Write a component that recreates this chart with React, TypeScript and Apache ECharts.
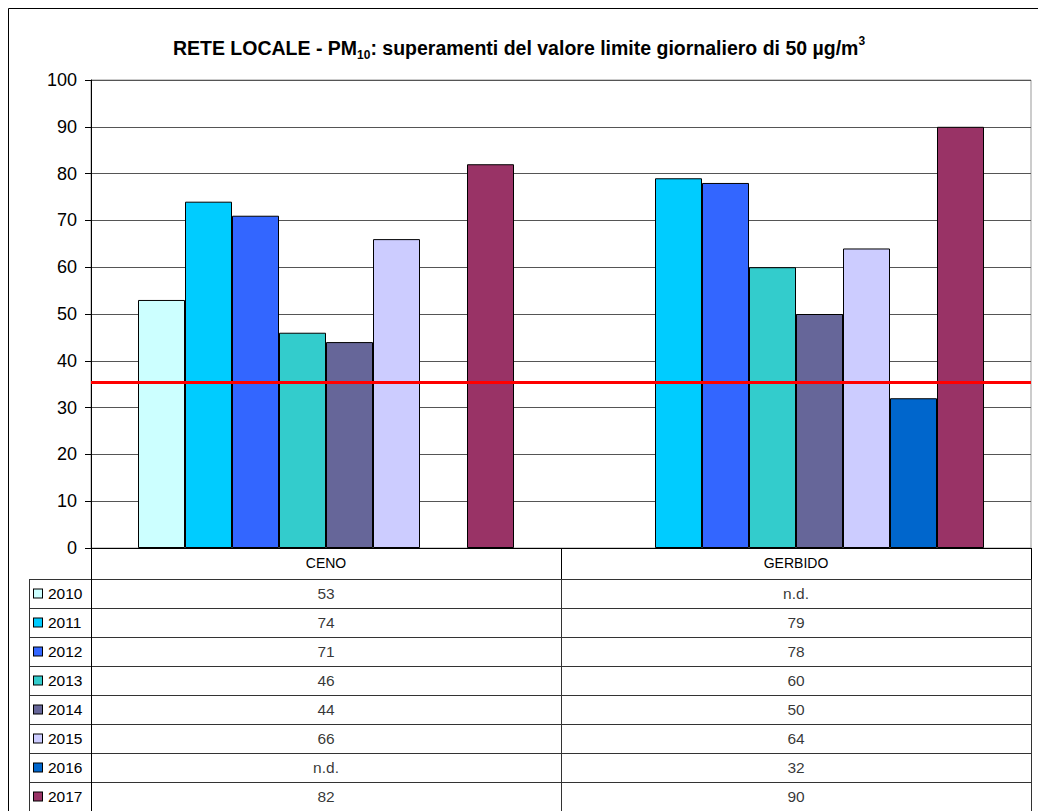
import React, { useEffect, useRef } from "react";
import * as echarts from "echarts";

const categories = ["CENO", "GERBIDO"];
const years = ["2010", "2011", "2012", "2013", "2014", "2015", "2016", "2017"];
const yearColors = ["#CCFFFF", "#00CCFF", "#3366FF", "#33CCCC", "#666699", "#CCCCFF", "#0066CC", "#993366"];
const cenoValues: (number | null)[] = [53, 74, 71, 46, 44, 66, null, 82];
const gerbidoValues: (number | null)[] = [null, 79, 78, 60, 50, 64, 32, 90];
const limitValue = 35.4;
const yMin = 0;
const yMax = 100;
const yInterval = 10;

const FONT = "'Liberation Sans', Arial, sans-serif";

export default function App() {
  const ref = useRef<HTMLDivElement>(null);
  useEffect(() => {
    document.body.style.margin = "0";
    if (!ref.current) return;
    const chart = echarts.init(ref.current, null, { renderer: "svg" });

    const barSeries = years.map((y, i) => ({
      type: "bar",
      name: y,
      xAxisIndex: 0,
      yAxisIndex: 0,
      data: [cenoValues[i], gerbidoValues[i]],
      barGap: "0%",
      barCategoryGap: "20%",
      itemStyle: { color: yearColors[i], borderColor: "#000", borderWidth: 1 },
      ...(i === 0
        ? {
            markLine: {
              silent: true,
              symbol: "none",
              label: { show: false },
              lineStyle: { color: "#FF0000", width: 3, type: "solid" },
              data: [{ yAxis: limitValue }],
            },
          }
        : {}),
    }));

    const tableData: any[] = [];
    years.forEach((y, i) => {
      const c = cenoValues[i];
      const g = gerbidoValues[i];
      tableData.push([categories[0], y, c == null ? "n.d." : String(c)]);
      tableData.push([categories[1], y, g == null ? "n.d." : String(g)]);
    });

    const rich: any = {
      t: { fontSize: 15.5, fontFamily: FONT, color: "#000", padding: [0, 0, 0, 6] },
    };
    yearColors.forEach((c, i) => {
      rich["sq" + i] = { width: 8, height: 8, backgroundColor: c, borderColor: "#000", borderWidth: 1 };
    });

    const option: any = {
      animation: false,
      backgroundColor: "#fff",
      textStyle: { fontFamily: FONT },
      title: {
        left: "center",
        top: 30,
        text: "{b|RETE LOCALE - PM}{s|10}{b|: superamenti del valore limite giornaliero di 50 µg/m}{p|3}",
        textStyle: {
          rich: {
            b: { fontSize: 19.5, fontWeight: "bold", fontFamily: FONT, color: "#000", lineHeight: 26 },
            s: { fontSize: 12, fontWeight: "bold", fontFamily: FONT, color: "#000", verticalAlign: "bottom", lineHeight: 26, padding: [9, 0, 0, 0] },
            p: { fontSize: 12, fontWeight: "bold", fontFamily: FONT, color: "#000", verticalAlign: "top", lineHeight: 26, padding: [0, 0, 9, 0] },
          },
        },
      },
      grid: [
        {
          left: 91,
          top: 80,
          width: 940,
          height: 468,
          show: true,
          borderColor: "#999",
          borderWidth: 1,
          containLabel: false,
        },
        {
          left: 91,
          top: 579,
          width: 940,
          height: 239,
          containLabel: false,
        },
      ],
      xAxis: [
        {
          type: "category",
          gridIndex: 0,
          data: categories,
          axisLine: { show: true, lineStyle: { color: "#000", width: 1 } },
          axisTick: { show: true, interval: 0, length: 31, lineStyle: { color: "#000" } },
          axisLabel: { show: true, margin: 8, fontSize: 14, color: "#000", fontFamily: FONT },
          splitLine: { show: false },
        },
        {
          type: "category",
          gridIndex: 1,
          data: categories,
          axisLine: { show: false },
          axisTick: { show: false },
          axisLabel: { show: false },
          splitLine: { show: true, interval: 0, lineStyle: { color: "#333", width: 1 } },
        },
      ],
      yAxis: [
        {
          type: "value",
          gridIndex: 0,
          min: yMin,
          max: yMax,
          interval: yInterval,
          axisLine: { show: true, lineStyle: { color: "#000", width: 1 } },
          axisTick: { show: true, length: 6, lineStyle: { color: "#000" } },
          axisLabel: { margin: 14, fontSize: 18, color: "#000", fontFamily: FONT },
          splitLine: { show: true, lineStyle: { color: "#555", width: 1 } },
        },
        {
          type: "category",
          gridIndex: 1,
          data: years,
          inverse: true,
          axisLine: { show: true, lineStyle: { color: "#000", width: 1 } },
          axisTick: { show: true, interval: 0, length: 62, lineStyle: { color: "#333" } },
          axisLabel: {
            interval: 0,
            align: "left",
            margin: 57,
            formatter: (v: string, idx: number) => `{sq${idx}|}{t|${v}}`,
            rich,
          },
          splitLine: { show: true, interval: 0, lineStyle: { color: "#333", width: 1 } },
        },
      ],
      graphic: [
        {
          type: "rect",
          silent: true,
          z: 100,
          shape: { x: 8.5, y: 8.5, width: 1100, height: 900 },
          style: { fill: "none", stroke: "#000", lineWidth: 1 },
        },
        {
          type: "line",
          silent: true,
          z: 100,
          shape: { x1: 29.5, y1: 579, x2: 29.5, y2: 900 },
          style: { stroke: "#333", lineWidth: 1 },
        },
      ],
      series: [
        ...barSeries,
        {
          type: "scatter",
          xAxisIndex: 1,
          yAxisIndex: 1,
          symbol: "rect",
          symbolSize: 1,
          itemStyle: { color: "rgba(0,0,0,0)" },
          label: {
            show: true,
            position: "inside",
            formatter: (p: any) => p.data[2],
            fontSize: 15.5,
            color: "#000",
            fontFamily: FONT,
          },
          data: tableData,
        },
      ],
    };
    chart.setOption(option);
    return () => chart.dispose();
  }, []);
  return <div ref={ref} style={{ width: 1038, height: 811 }} />;
}
